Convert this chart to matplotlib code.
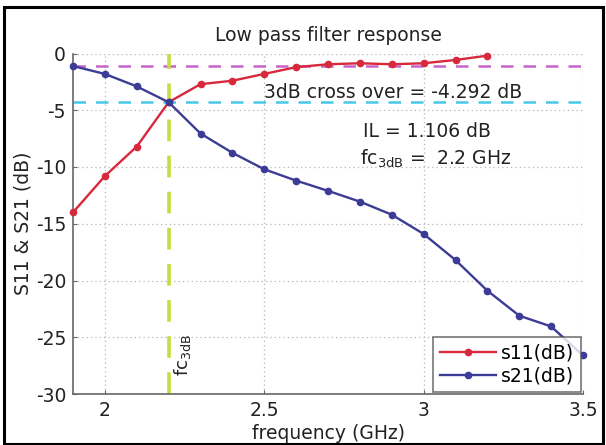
import matplotlib
matplotlib.use("Agg")
import matplotlib.pyplot as plt
from matplotlib.patches import Rectangle

plt.rcParams['font.family'] = ['DejaVu Sans']
plt.rcParams['mathtext.default'] = 'regular'

# Measured S-parameters of the low pass filter
freq_s11 = [1.9, 2.0, 2.1, 2.2, 2.3, 2.4, 2.5, 2.6, 2.7, 2.8, 2.9, 3.0, 3.1, 3.2]
s11_db = [-14.0, -10.8, -8.2, -4.292, -2.7, -2.4, -1.8, -1.2, -0.95, -0.86,
          -0.95, -0.86, -0.57, -0.19]
freq_s21 = [1.9, 2.0, 2.1, 2.2, 2.3, 2.4, 2.5, 2.6, 2.7, 2.8, 2.9, 3.0, 3.1,
            3.2, 3.3, 3.4, 3.5]
s21_db = [-1.106, -1.8, -2.9, -4.292, -7.05, -8.75, -10.2, -11.2, -12.1,
          -13.05, -14.2, -15.9, -18.2, -20.9, -23.1, -24.05, -26.6]

insertion_loss = -1.106
crossover_db = -4.292
fc_3db = 2.2

x_ticks = [2, 2.5, 3, 3.5]
x_tick_labels = ['2', '2.5', '3', '3.5']
y_ticks = [0, -5, -10, -15, -20, -25, -30]
y_tick_labels = ['0', '-5', '-10', '-15', '-20', '-25', '-30']

W, H = 606, 445
fig = plt.figure(figsize=(W / 100, H / 100), dpi=100)
fig.patch.set_facecolor('white')

# black frame around the figure
fig.add_artist(Rectangle((4 / W, 1 / H), 599 / W, 437 / H, transform=fig.transFigure,
                         fill=False, edgecolor='black', linewidth=2.2))

ax = fig.add_axes([73 / W, (H - 394) / H, 510 / W, 340.5 / H])

ax.axhline(insertion_loss, color='#c864c8', linestyle=(0, (5, 4)), linewidth=1.8, zorder=1)
ax.axhline(crossover_db, color='#46c8e6', linestyle=(0, (5, 4)), linewidth=1.8, zorder=1)
ax.axvline(fc_3db, color='#c8dc3c', linestyle=(0, (6, 4)), linewidth=2.6, zorder=1)

ax.plot(freq_s11, s11_db, color='#d8283c', marker='.', markersize=9,
        linewidth=1.7, label='s11(dB)', clip_on=False, zorder=3)
ax.plot(freq_s21, s21_db, color='#3c3c96', marker='.', markersize=9,
        linewidth=1.7, label='s21(dB)', clip_on=False, zorder=3)

ax.set_xlim(1.9, 3.5)
ax.set_ylim(-30, 0)
ax.set_xticks(x_ticks)
ax.set_xticklabels(x_tick_labels)
ax.set_yticks(y_ticks)
ax.set_yticklabels(y_tick_labels)
ax.tick_params(direction='in', length=3, width=0.8, color='#666666',
               labelsize=13.5, labelcolor='#222222', pad=5)
ax.grid(True, color='#b4b4b4', linestyle=(0, (1, 2.5)), linewidth=0.9)
ax.set_axisbelow(True)
for side in ('left', 'bottom'):
    ax.spines[side].set_color('#666666')
    ax.spines[side].set_linewidth(1.2)
for side in ('top', 'right'):
    ax.spines[side].set_visible(False)

ax.set_title('Low pass filter response', fontsize=13.5, color='#222222', pad=9)
ax.set_xlabel('frequency (GHz)', fontsize=13.5, color='#222222', labelpad=3)
ax.set_ylabel('S11 & S21 (dB)', fontsize=13.5, color='#222222', labelpad=2)

ax.text(2.5, -3.48, '3dB cross over = %.3f dB' % crossover_db, fontsize=13.5,
        color='#222222', va='center', ha='left')
ax.text(2.81, -6.85, 'IL = %.3f dB' % abs(insertion_loss), fontsize=13.5,
        color='#222222', va='center', ha='left')
ax.text(2.8, -9.3, 'fc$_{3dB}$ =  %.1f GHz' % fc_3db, fontsize=13.5,
        color='#222222', va='center', ha='left')
ax.text(fc_3db + 0.012, -28.4, 'fc$_{3dB}$', fontsize=13, color='#222222',
        rotation=90, va='bottom', ha='left')

leg = ax.legend(loc='lower right', fontsize=13.5, frameon=True, fancybox=False,
                borderaxespad=0.1, handlelength=3.0, handletextpad=0.3,
                borderpad=0.35, labelspacing=0.2)
leg.get_frame().set_edgecolor('#555555')
leg.get_frame().set_linewidth(1.2)
leg.set_zorder(5)

fig.savefig('out.png', dpi=100)
